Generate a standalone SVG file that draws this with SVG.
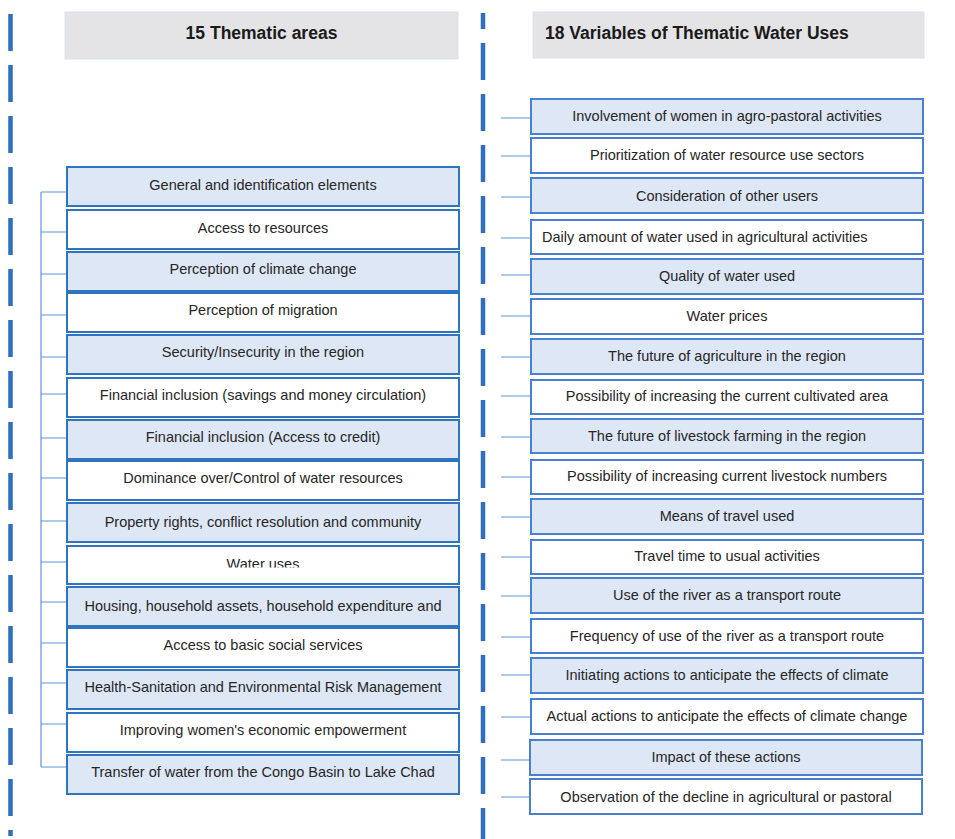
<svg xmlns="http://www.w3.org/2000/svg" width="955" height="839" viewBox="0 0 955 839">
  <style>
    .hdr { fill: #e4e3e5; stroke: #d7e3f1; stroke-width: 1; }
    .hdr-t { font-family: "Liberation Sans", Arial, sans-serif; font-weight: bold; font-size: 17.5px; fill: #1a1a1a; }
    .box { stroke: #2f74bf; stroke-width: 2; }
    .rbox { stroke: #4a7fcb; stroke-width: 2; }
    .blue { fill: #dee7f5; }
    .white { fill: #ffffff; }
    .t { font-family: "Liberation Sans", Arial, sans-serif; font-size: 14.5px; fill: #262626; text-anchor: middle; }
    .tl { font-family: "Liberation Sans", Arial, sans-serif; font-size: 14.5px; fill: #262626; }
    .dash { stroke: #2f6fbd; stroke-width: 4.5; stroke-dasharray: 37 14; fill: none; }
    .link { stroke: #5f95d6; stroke-width: 1.2; fill: none; }
  </style>
  <defs>
    <clipPath id="clipWater">
      <rect x="66" y="545" width="394" height="22.5"/>
    </clipPath>
  </defs>
  <rect width="955" height="839" fill="#ffffff"/>

  <!-- column separators -->
  <g id="separators">
    <line class="dash" x1="10.5" y1="14" x2="10.5" y2="836"/>
    <line class="dash" x1="483" y1="13" x2="483" y2="839" stroke-dashoffset="21"/>
  </g>

  <!-- headers -->
  <g id="header-left">
    <rect class="hdr" x="65" y="12" width="393" height="47"/>
    <text class="hdr-t" x="261.5" y="38.5" text-anchor="middle">15 Thematic areas</text>
  </g>
  <g id="header-right">
    <rect class="hdr" x="533" y="12" width="391" height="46"/>
    <text class="hdr-t" x="545" y="38.5">18 Variables of Thematic Water Uses</text>
  </g>

  <!-- connectors -->
  <g id="connectors">
    <path class="link" d="M41,192 V767"/>
    <path class="link" d="M41,192 H68 M41,232 H68 M41,274 H68 M41,315 H68 M41,357 H68 M41,394 H68 M41,438 H68 M41,478 H68 M41,521 H68 M41,562 H68 M41,602 H68 M41,643 H68 M41,683 H68 M41,724 H68 M41,767 H68"/>
    <path class="link" d="M501,118 H531 M501,156 H531 M501,197 H531 M501,238 H531 M501,275 H531 M501,316 H531 M501,357 H531 M501,396 H531 M501,437 H531 M501,477 H531 M501,517 H531 M501,557 H531 M501,596 H531 M501,637 H531 M501,675 H531 M501,717 H531 M501,760 H531 M501,797 H531"/>
  </g>

  <!-- thematic areas -->
  <g id="area-1"><rect class="box blue" x="67" y="167" width="392" height="39"/><text class="t" x="263" y="190">General and identification elements</text></g>
  <g id="area-2"><rect class="box white" x="67" y="210" width="392" height="39"/><text class="t" x="263" y="233">Access to resources</text></g>
  <g id="area-3"><rect class="box blue" x="67" y="252" width="392" height="39"/><text class="t" x="263" y="274">Perception of climate change</text></g>
  <g id="area-4"><rect class="box white" x="67" y="293" width="392" height="39"/><text class="t" x="263" y="315">Perception of migration</text></g>
  <g id="area-5"><rect class="box blue" x="67" y="335" width="392" height="39"/><text class="t" x="263" y="357">Security/Insecurity in the region</text></g>
  <g id="area-6"><rect class="box white" x="67" y="378" width="392" height="39"/><text class="t" x="263" y="400">Financial inclusion (savings and money circulation)</text></g>
  <g id="area-7"><rect class="box blue" x="67" y="420" width="392" height="39"/><text class="t" x="263" y="442">Financial inclusion (Access to credit)</text></g>
  <g id="area-8"><rect class="box white" x="67" y="461" width="392" height="39"/><text class="t" x="263" y="483">Dominance over/Control of water resources</text></g>
  <g id="area-9"><rect class="box blue" x="67" y="503" width="392" height="39"/><text class="t" x="263" y="527">Property rights, conflict resolution and community</text></g>
  <g id="area-10"><rect class="box white" x="67" y="546" width="392" height="38"/><text class="t" x="263" y="569" clip-path="url(#clipWater)">Water uses</text></g>
  <g id="area-11"><rect class="box blue" x="67" y="587" width="392" height="39"/><text class="t" x="263" y="611">Housing, household assets, household expenditure and</text></g>
  <g id="area-12"><rect class="box white" x="67" y="628" width="392" height="39"/><text class="t" x="263" y="650">Access to basic social services</text></g>
  <g id="area-13"><rect class="box blue" x="67" y="670" width="392" height="39"/><text class="t" x="263" y="692">Health-Sanitation and Environmental Risk Management</text></g>
  <g id="area-14"><rect class="box white" x="67" y="713" width="392" height="39"/><text class="t" x="263" y="735">Improving women's economic empowerment</text></g>
  <g id="area-15"><rect class="box blue" x="67" y="755" width="392" height="39"/><text class="t" x="263" y="777">Transfer of water from the Congo Basin to Lake Chad</text></g>

  <!-- water use variables -->
  <g id="var-1"><rect class="rbox blue" x="531" y="99" width="392" height="35"/><text class="t" x="727" y="121">Involvement of women in agro-pastoral activities</text></g>
  <g id="var-2"><rect class="rbox white" x="531" y="138" width="392" height="35"/><text class="t" x="727" y="160">Prioritization of water resource use sectors</text></g>
  <g id="var-3"><rect class="rbox blue" x="531" y="178" width="392" height="35"/><text class="t" x="727" y="201">Consideration of other users</text></g>
  <g id="var-4"><rect class="rbox white" x="531" y="220" width="392" height="34"/><text class="tl" x="542" y="242">Daily amount of water used in agricultural activities</text></g>
  <g id="var-5"><rect class="rbox blue" x="531" y="259" width="392" height="35"/><text class="t" x="727" y="281">Quality of water used</text></g>
  <g id="var-6"><rect class="rbox white" x="531" y="299" width="392" height="35"/><text class="t" x="727" y="321">Water prices</text></g>
  <g id="var-7"><rect class="rbox blue" x="531" y="339" width="392" height="35"/><text class="t" x="727" y="361">The future of agriculture in the region</text></g>
  <g id="var-8"><rect class="rbox white" x="531" y="380" width="392" height="34"/><text class="t" x="727" y="401">Possibility of increasing the current cultivated area</text></g>
  <g id="var-9"><rect class="rbox blue" x="531" y="419" width="392" height="34"/><text class="t" x="727" y="441">The future of livestock farming in the region</text></g>
  <g id="var-10"><rect class="rbox white" x="531" y="460" width="392" height="34"/><text class="t" x="727" y="481">Possibility of increasing current livestock numbers</text></g>
  <g id="var-11"><rect class="rbox blue" x="531" y="499" width="392" height="35"/><text class="t" x="727" y="521">Means of travel used</text></g>
  <g id="var-12"><rect class="rbox white" x="531" y="540" width="392" height="34"/><text class="t" x="727" y="561">Travel time to usual activities</text></g>
  <g id="var-13"><rect class="rbox blue" x="531" y="578" width="392" height="35"/><text class="t" x="727" y="600">Use of the river as a transport route</text></g>
  <g id="var-14"><rect class="rbox white" x="531" y="619" width="392" height="34"/><text class="t" x="727" y="641">Frequency of use of the river as a transport route</text></g>
  <g id="var-15"><rect class="rbox blue" x="531" y="658" width="392" height="35"/><text class="t" x="727" y="680">Initiating actions to anticipate the effects of climate</text></g>
  <g id="var-16"><rect class="rbox white" x="531" y="699" width="392" height="35"/><text class="t" x="727" y="721">Actual actions to anticipate the effects of climate change</text></g>
  <g id="var-17"><rect class="rbox blue" x="530" y="740" width="392" height="35"/><text class="t" x="726" y="762">Impact of these actions</text></g>
  <g id="var-18"><rect class="rbox white" x="530" y="779" width="392" height="35"/><text class="t" x="726" y="802">Observation of the decline in agricultural or pastoral</text></g>
</svg>
